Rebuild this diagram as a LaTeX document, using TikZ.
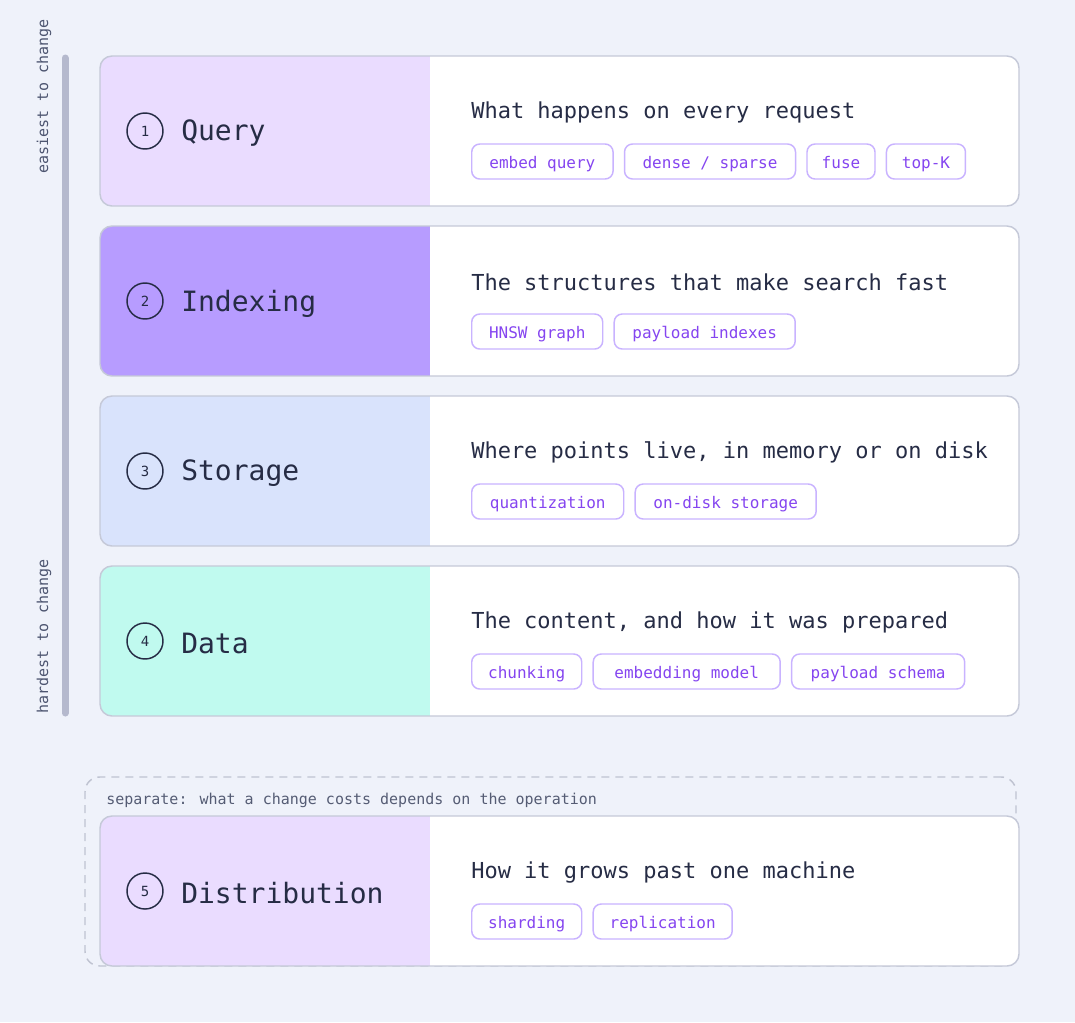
\documentclass[tikz,border=0pt]{standalone}
\usepackage{fontspec}
\setmainfont{DejaVu Sans Mono}
\usetikzlibrary{positioning}
\definecolor{bg}{HTML}{EFF2FA}
\definecolor{cardline}{HTML}{C5C9D8}
\definecolor{ink}{HTML}{262C45}
\definecolor{tagline}{HTML}{C9B3FF}
\definecolor{tagtext}{HTML}{8545F0}
\definecolor{sidetext}{HTML}{4D5570}
\definecolor{septext}{HTML}{555C74}
\definecolor{barcol}{HTML}{B5B9CD}
\definecolor{dashline}{HTML}{BFC3D1}
\definecolor{qcol}{HTML}{EADCFF}
\definecolor{icol}{HTML}{B79CFF}
\definecolor{scol}{HTML}{D9E3FC}
\definecolor{dcol}{HTML}{C0FAEF}
\begin{document}
\begin{tikzpicture}[x=0.75pt,y=-0.75pt,
		card/.style={draw=cardline, fill=white, line width=1.1pt, rounded corners=9pt, minimum width=689.25pt, minimum height=112.5pt, inner sep=0pt,
			path picture={\fill[#1, sharp corners] (path picture bounding box.north west) rectangle ([xshift=247.5pt]path picture bounding box.south west);}},
		num/.style={draw=ink, circle, line width=1.1pt, minimum size=27pt, inner sep=0pt, text=ink, font=\fontsize{10.5}{12}\selectfont},
		title/.style={anchor=west, inner sep=0pt, text=ink, font=\fontsize{21}{25}\selectfont},
		desc/.style={anchor=west, inner sep=0pt, text=ink, font=\fontsize{16.5}{20}\selectfont},
		tag/.style={draw=tagline, line width=1.1pt, rounded corners=6pt, minimum height=26.25pt, minimum width=#1, inner sep=0pt, text height=10.5pt, text depth=0.3pt, text=tagtext, font=\fontsize{12}{14}\selectfont},
		side/.style={rotate=90, inner sep=0pt, text=sidetext, font=\fontsize{11.25}{13}\selectfont},
		node distance=7.5pt]
	\fill[bg] (0,0) rectangle (1075,1022);
	\useasboundingbox (0,0) rectangle (1075,1022);

	% scale on the left
	\draw [barcol, line width=5.25pt, line cap=round] (65,58) -- (65,713);
	\node [side] (easy) at (44,96.5) {easiest to change};
	\node [side] (hard) at (44,636.5) {hardest to change};

	% layer 1
	\node [card=qcol] (c1) at (559.5,131) {};
	\node [num] (n1) at (145,131) {1};
	\node [title] (t1) at (181,133.5) {Query};
	\node [desc] (h1) at (471,112) {What happens on every request};
	\node [tag=106pt,anchor=west] (q1) at (471,161.5) {embed query};
	\node [tag=128.25pt,right=of q1] (q2) {dense / sparse};
	\node [tag=51pt,right=of q2] (q3) {fuse};
	\node [tag=59.25pt,right=of q3] (q4) {top-K};

	% layer 2
	\node [card=icol] (c2) at (559.5,301) {};
	\node [num] (n2) at (145,301) {2};
	\node [title] (t2) at (181,303.5) {Indexing};
	\node [desc] (h2) at (471,282) {The structures that make search fast};
	\node [tag=98.25pt,anchor=west] (i1) at (471,331.5) {HNSW graph};
	\node [tag=135.75pt,right=of i1] (i2) {payload indexes};

	% layer 3
	\node [card=scol] (c3) at (559.5,471) {};
	\node [num] (n3) at (145,471) {3};
	\node [title] (t3) at (181,473.5) {Storage};
	\node [desc] (h3) at (471,452) {Where points live, in memory or on disk};
	\node [tag=114pt,anchor=west] (s1) at (471,501.5) {quantization};
	\node [tag=135.75pt,right=of s1] (s2) {on-disk storage};

	% layer 4
	\node [card=dcol] (c4) at (559.5,641) {};
	\node [num] (n4) at (145,641) {4};
	\node [title] (t4) at (181,643.5) {Data};
	\node [desc] (h4) at (471,622) {The content, and how it was prepared};
	\node [tag=82.5pt,anchor=west] (d1) at (471,671.5) {chunking};
	\node [tag=140.25pt,right=of d1] (d2) {embedding model};
	\node [tag=129.75pt,right=of d2] (d3) {payload schema};

	% layer 5, kept apart
	\node [draw=dashline, line width=1.1pt, dash pattern=on 6pt off 4.5pt, rounded corners=11pt, minimum width=698.25pt, minimum height=141.75pt] (grp) at (550.5,871.5) {};
	\node [anchor=west, inner sep=0pt, text=septext, font=\fontsize{11.25}{13}\selectfont] (gl) at (106,800.5) {separate: what a change costs depends on the operation};
	\node [card=qcol] (c5) at (559.5,891) {};
	\node [num] (n5) at (145,891) {5};
	\node [title] (t5) at (181,893.5) {Distribution};
	\node [desc] (h5) at (471,872) {How it grows past one machine};
	\node [tag=82.5pt,anchor=west] (r1) at (471,921.5) {sharding};
	\node [tag=104.25pt,right=of r1] (r2) {replication};
\end{tikzpicture}
\end{document}
